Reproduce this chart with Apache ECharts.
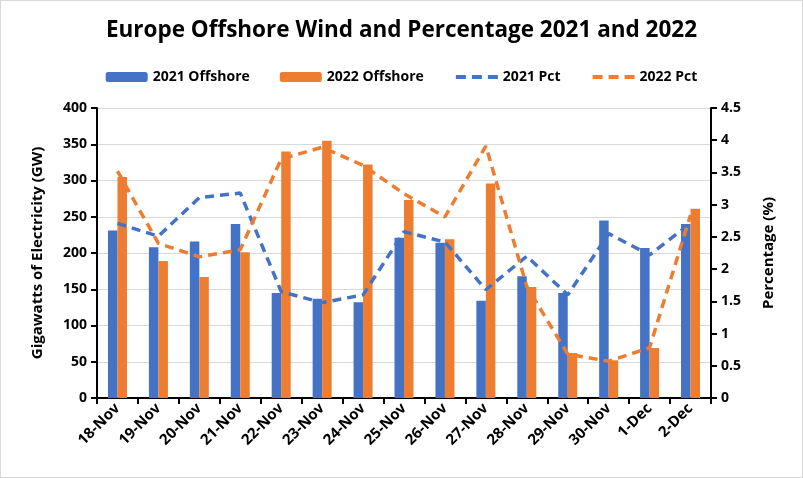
<!DOCTYPE html>
<html><head><meta charset="utf-8">
<script src="https://cdn.jsdelivr.net/npm/echarts@6/dist/echarts.min.js"></script>
<style>html,body{margin:0;padding:0;background:#fff}#c{width:801px;height:476px;border:1px solid #d9d9d9}</style>
</head><body><div id="c"></div>
<script>
const categories = ['18-Nov','19-Nov','20-Nov','21-Nov','22-Nov','23-Nov','24-Nov','25-Nov','26-Nov','27-Nov','28-Nov','29-Nov','30-Nov','1-Dec','2-Dec'];
const offshore2021 = [231, 208, 216, 240, 145, 137, 132, 221, 214, 134, 168, 145, 245, 207, 240];
const offshore2022 = [305, 189, 167, 201, 340, 355, 322, 273, 219, 296, 153, 62, 52, 69, 261];
const pct2021 = [2.71, 2.51, 3.11, 3.18, 1.65, 1.48, 1.60, 2.58, 2.42, 1.68, 2.20, 1.60, 2.55, 2.22, 2.71];
const pct2022 = [3.52, 2.40, 2.19, 2.30, 3.71, 3.89, 3.61, 3.17, 2.81, 3.91, 1.73, 0.68, 0.57, 0.78, 2.84];
const leftTicks = {min: 0, max: 400, interval: 50};
const rightTicks = {min: 0, max: 4.5, interval: 0.5};

const FONT = 'Open Sans';
const chart = echarts.init(document.getElementById('c'));
chart.setOption({
  animation: false,
  title: {text: 'Europe Offshore Wind and Percentage 2021 and 2022', left: 'center', top: 13,
    textStyle: {fontFamily: FONT, fontWeight: 'bold', fontSize: 22.5, color: '#000'}},
  legend: {top: 64, left: 'center', itemWidth: 42, itemHeight: 10, itemGap: 30,
    textStyle: {fontFamily: FONT, fontWeight: 'bold', fontSize: 14, color: '#000'},
    data: ['2021 Offshore', '2022 Offshore',
      {name: '2021 Pct', itemStyle: {opacity: 0}, lineStyle: {width: 4, type: [10, 6]}},
      {name: '2022 Pct', itemStyle: {opacity: 0}, lineStyle: {width: 4, type: [10, 6]}}]},
  grid: {left: 96, right: 91, top: 107, bottom: 79, containLabel: false},
  xAxis: {type: 'category', data: categories,
    axisLine: {lineStyle: {color: '#000', width: 2}},
    axisTick: {show: true, length: 6, lineStyle: {color: '#000', width: 2}},
    axisLabel: {rotate: 45, fontFamily: FONT, fontWeight: 'bold', fontSize: 15, color: '#000', margin: 8, interval: 0}},
  yAxis: [
    {type: 'value', min: leftTicks.min, max: leftTicks.max, interval: leftTicks.interval,
     name: 'Gigawatts of Electricity (GW)', nameLocation: 'middle', nameGap: 52, nameRotate: 90,
     nameTextStyle: {fontFamily: FONT, fontWeight: 'bold', fontSize: 15, color: '#000'},
     axisLine: {show: true, lineStyle: {color: '#000', width: 2}},
     axisTick: {show: true, length: 6, lineStyle: {color: '#000', width: 2}},
     axisLabel: {fontFamily: FONT, fontWeight: 'bold', fontSize: 14, color: '#000', margin: 10},
     splitLine: {lineStyle: {color: '#d9d9d9', width: 1}}},
    {type: 'value', min: rightTicks.min, max: rightTicks.max, interval: rightTicks.interval,
     name: 'Percentage (%)', nameLocation: 'middle', nameGap: 50, nameRotate: 90,
     nameTextStyle: {fontFamily: FONT, fontWeight: 'bold', fontSize: 15, color: '#000'},
     axisLine: {show: true, lineStyle: {color: '#000', width: 2}},
     axisTick: {show: true, length: 6, lineStyle: {color: '#000', width: 2}},
     axisLabel: {fontFamily: FONT, fontWeight: 'bold', fontSize: 14, color: '#000', margin: 10},
     splitLine: {show: false}}
  ],
  series: [
    {name: '2021 Offshore', type: 'bar', data: offshore2021, barWidth: 9.5, barGap: '0%', itemStyle: {color: '#4472c4'}},
    {name: '2022 Offshore', type: 'bar', data: offshore2022, barWidth: 9.5, barGap: '0%', itemStyle: {color: '#ed7d31'}},
    {name: '2021 Pct', type: 'line', yAxisIndex: 1, data: pct2021, symbol: 'none',
     lineStyle: {color: '#4472c4', width: 3.5, type: [9, 6]}, itemStyle: {color: '#4472c4'}},
    {name: '2022 Pct', type: 'line', yAxisIndex: 1, data: pct2022, symbol: 'none',
     lineStyle: {color: '#ed7d31', width: 3.5, type: [9, 6]}, itemStyle: {color: '#ed7d31'}}
  ]
});
</script></body></html>
